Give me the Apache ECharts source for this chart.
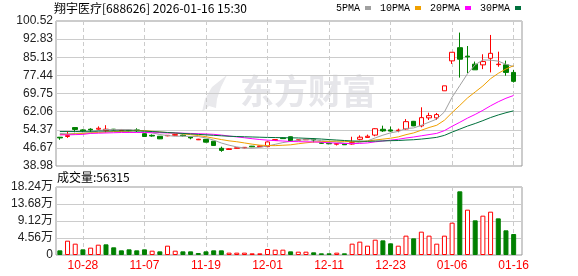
<!DOCTYPE html>
<html>
<head>
<meta charset="utf-8">
<title>翔宇医疗 日K</title>
<script src="https://cdn.jsdelivr.net/npm/echarts@6.0.0/dist/echarts.min.js"></script>
<style>
  html, body { margin: 0; padding: 0; background: #fff; }
  #main { width: 578px; height: 276px; }
</style>
</head>
<body>
<div id="main"></div>
<script>
// 交易日
var dates = [
  '10-23', '10-24', '10-27', '10-28', '10-29', '10-30', '10-31',
  '11-03', '11-04', '11-05', '11-06', '11-07', '11-10', '11-11', '11-12', '11-13', '11-14',
  '11-17', '11-18', '11-19', '11-20', '11-21', '11-24', '11-25', '11-26', '11-27', '11-28',
  '12-01', '12-02', '12-03', '12-04', '12-05', '12-08', '12-09', '12-10', '12-11', '12-12',
  '12-15', '12-16', '12-17', '12-18', '12-19', '12-22', '12-23', '12-24', '12-25', '12-26',
  '12-29', '12-30', '12-31',
  '01-05', '01-06', '01-07', '01-08', '01-09', '01-12', '01-13', '01-14', '01-15', '01-16'
];
var labelDates = ['10-28', '11-07', '11-19', '12-01', '12-11', '12-23', '01-06', '01-16'];

// 开 收 低 高
var opens = [51.2, 51.5, 55.3, 54.3, 54.6, 54.6, 54.0, 54.6, 54.0, 54.2,
  54.3, 52.7, 52.0, 51.6, 51.8, 52.0, 52.1, 51.3, 50.1, 50.3,
  49.5, 46.5, 46.0, 46.5, 46.7, 47.4, 47.2, 47.2, 49.8, 50.9,
  51.4, 49.9, 50.1, 50.4, 48.9, 48.6, 48.2, 48.3, 48.3, 50.3,
  51.1, 52.1, 54.57, 54.3, 54.0, 54.7, 57.95, 56.0, 59.4, 59.4,
  70.9, 83.6, 89.2, 85.6, 82.2, 81.9, 84.7, 82.0, 81.9, 78.7];
var closes = [50.9, 51.9, 54.5, 53.9, 54.3, 55.0, 54.6, 54.3, 54.2, 54.0,
  53.9, 51.5, 51.7, 50.5, 52.0, 52.3, 51.8, 50.9, 50.35, 49.1,
  47.7, 45.6, 46.3, 46.7, 46.9, 47.1, 47.5, 49.2, 50.2, 50.6,
  49.6, 50.1, 50.3, 50.0, 48.6, 48.4, 48.5, 48.0, 48.9, 51.2,
  51.6, 54.8, 53.87, 53.8, 54.2, 57.8, 56.0, 59.5, 60.35, 60.8,
  73.0, 87.25, 84.3, 85.3, 79.8, 83.3, 86.8, 82.2, 78.7, 74.9];
var lows = [50.1, 50.9, 53.3, 53.3, 53.3, 54.3, 53.2, 54.0, 53.8, 53.7,
  53.4, 51.4, 51.4, 50.4, 51.6, 51.8, 51.5, 50.3, 50.0, 49.0,
  47.5, 45.0, 45.9, 46.4, 46.5, 47.0, 47.1, 47.1, 49.6, 50.5,
  49.4, 49.8, 50.0, 49.0, 48.4, 48.2, 47.7, 47.9, 48.0, 49.9,
  50.9, 51.6, 53.45, 53.45, 53.3, 54.4, 55.9, 55.4, 58.5, 58.5,
  70.9, 82.3, 76.5, 78.4, 79.8, 80.1, 78.7, 81.1, 77.3, 74.4];
var highs = [51.3, 53.8, 55.4, 54.6, 55.0, 55.8, 56.3, 54.7, 54.4, 54.3,
  55.0, 52.8, 52.4, 51.7, 52.1, 52.5, 52.3, 51.4, 50.5, 50.4,
  49.6, 47.2, 46.5, 46.8, 47.0, 47.5, 47.6, 49.3, 50.4, 51.1,
  51.5, 50.2, 50.5, 50.8, 49.0, 48.7, 48.7, 48.4, 51.4, 52.0,
  52.3, 55.0, 56.1, 55.7, 54.85, 58.9, 58.1, 63.9, 61.6, 61.5,
  73.0, 87.3, 95.6, 89.9, 83.3, 86.4, 94.6, 87.5, 83.7, 79.8];

// 成交量(股)
var volumes = [12500, 38400, 30400, 15200, 19700, 27700, 28600, 20600, 12500, 15200,
  12500, 15200, 11600, 9800, 25000, 11600, 9800, 9800, 5400, 9800,
  12500, 12500, 6300, 6300, 6300, 4500, 4500, 16100, 14300, 14300,
  9800, 8900, 8900, 7200, 4500, 4500, 6300, 4500, 30400, 35800,
  25000, 41100, 39300, 31300, 25000, 51900, 44700, 62600, 51900, 30400,
  51900, 86700, 170800, 121600, 93000, 105500, 116200, 98300, 66200, 56315];

// 均线
var ma5 = [52.8, 52.6, 52.8, 53.0, 53.1, 53.92, 54.46, 54.42, 54.48, 54.42,
  54.2, 53.58, 53.06, 52.32, 51.92, 51.6, 51.66, 51.5, 51.47, 50.89,
  49.97, 48.73, 47.81, 47.08, 46.64, 46.52, 46.9, 47.48, 48.18, 48.92,
  49.42, 49.94, 50.16, 50.12, 49.72, 49.48, 49.16, 48.7, 48.48, 49.0,
  49.64, 50.9, 52.07, 53.05, 53.65, 54.89, 55.13, 56.26, 57.57, 58.89,
  61.93, 68.18, 73.14, 78.13, 81.93, 83.99, 83.9, 83.48, 82.16, 81.18];
var ma10 = [52.3, 52.4, 52.6, 52.8, 53.0, 53.2, 53.4, 53.6, 53.7, 53.76,
  54.06, 54.02, 53.74, 53.4, 53.17, 52.9, 52.62, 52.28, 51.9, 51.41,
  50.79, 50.2, 49.66, 49.28, 48.77, 48.25, 47.82, 47.65, 47.63, 47.78,
  47.97, 48.42, 48.82, 49.15, 49.32, 49.45, 49.55, 49.43, 49.3, 49.36,
  49.56, 50.03, 50.39, 50.77, 51.33, 52.27, 53.02, 54.17, 55.31, 56.27,
  58.41, 61.66, 64.7, 67.85, 70.41, 72.96, 76.04, 78.31, 80.15, 81.56];
var ma20 = [52.2, 52.2, 52.3, 52.4, 52.8, 52.9, 53.0, 53.1, 53.2, 53.2,
  53.2, 53.2, 53.1, 53.1, 53.0, 53.0, 52.9, 52.8, 52.7, 52.58,
  52.42, 52.11, 51.7, 51.34, 50.97, 50.57, 50.22, 49.96, 49.76, 49.59,
  49.38, 49.31, 49.24, 49.21, 49.04, 48.85, 48.68, 48.54, 48.47, 48.57,
  48.77, 49.23, 49.6, 49.96, 50.32, 50.86, 51.28, 51.8, 52.31, 52.82,
  53.99, 55.84, 57.54, 59.31, 60.87, 62.61, 64.53, 66.24, 67.73, 68.91];
var ma30 = [53.6, 53.6, 53.6, 53.7, 53.7, 53.8, 53.8, 53.9, 53.9, 53.9,
  53.9, 53.8, 53.6, 53.4, 53.2, 53.0, 52.8, 52.6, 52.4, 52.2,
  52.0, 51.8, 51.6, 51.5, 51.4, 51.3, 51.2, 51.1, 51.05, 50.98,
  50.94, 50.88, 50.74, 50.61, 50.42, 50.2, 50.0, 49.79, 49.61, 49.52,
  49.44, 49.55, 49.62, 49.73, 49.8, 49.99, 50.13, 50.41, 50.75, 51.14,
  51.98, 53.37, 54.64, 55.92, 57.02, 58.23, 59.54, 60.64, 61.59, 62.4];

// 刻度
var priceTicks = ['38.98', '46.67', '54.37', '62.06', '69.75', '77.44', '85.13', '92.83', '100.52'];
var volTicks = ['0', '4.56万', '9.12万', '13.68万', '18.24万'];

var UP = '#ff0000';
var DOWN = '#008000';
var LABEL_FONT = '"Liberation Sans", "Noto Sans CJK SC", sans-serif';

var kData = opens.map(function (o, i) {
  return [o, closes[i], lows[i], highs[i]];
});

// 量柱颜色按收盘比昨收
var volData = volumes.map(function (v, i) {
  var up = i === 0 ? closes[i] >= opens[i] : closes[i] >= closes[i - 1];
  return {
    value: v,
    itemStyle: up
      ? { color: '#fff', borderColor: UP, borderWidth: 1 }
      : { color: DOWN, borderColor: DOWN, borderWidth: 1 }
  };
});

function isLabelDay(index, value) {
  return labelDates.indexOf(value) >= 0;
}

var myChart = echarts.init(document.getElementById('main'));

function maLine(name, data, color) {
  return {
    name: name,
    type: 'line',
    xAxisIndex: 1,
    yAxisIndex: 1,
    data: data,
    showSymbol: false,
    symbol: 'none',
    silent: true,
    lineStyle: { width: 1, color: color },
    itemStyle: { color: color },
    z: 3
  };
}

var option = {
  animation: false,
  backgroundColor: '#fff',
  title: {
    text: '翔宇医疗[688626] 2026-01-16 15:30',
    left: 54,
    top: 2,
    padding: 0,
    textStyle: { fontSize: 12, fontWeight: 'normal', color: '#000', fontFamily: '"Noto Sans CJK SC"' }
  },
  legend: {
    data: ['5PMA', '10PMA', '20PMA', '30PMA'],
    left: 336,
    top: 3,
    padding: 0,
    align: 'right',
    icon: 'rect',
    itemWidth: 6,
    itemHeight: 4,
    itemGap: 9,
    selectedMode: false,
    textStyle: { fontSize: 10, color: '#000', fontFamily: '"Liberation Mono"' }
  },
  grid: [
    { left: 56, top: 21, width: 466, height: 145, show: true, borderColor: '#999', borderWidth: 1, backgroundColor: 'transparent' },
    { left: 56, top: 21, width: 461.5, height: 145 },
    { left: 56, top: 187, width: 466, height: 68, show: true, borderColor: '#999', borderWidth: 1, backgroundColor: 'transparent' },
    { left: 56, top: 187, width: 461.5, height: 68 }
  ],
  xAxis: [
    { type: 'value', gridIndex: 0, min: 0, max: 1, show: false },
    {
      type: 'category', gridIndex: 1, data: dates, boundaryGap: true,
      axisLine: { show: false }, axisTick: { show: false }, axisLabel: { show: false },
      splitLine: { show: true, interval: isLabelDay, alignWithLabel: true, lineStyle: { color: '#ccc', type: [4, 3] } }
    },
    { type: 'value', gridIndex: 2, min: 0, max: 1, show: false },
    {
      type: 'category', gridIndex: 3, data: dates, boundaryGap: true,
      axisLine: { show: false }, axisTick: { show: false },
      axisLabel: { show: true, interval: isLabelDay, color: UP, fontSize: 12, margin: 5, fontFamily: LABEL_FONT },
      splitLine: { show: true, interval: isLabelDay, alignWithLabel: true, lineStyle: { color: '#ccc', type: [4, 3] } }
    }
  ],
  yAxis: [
    {
      type: 'value', gridIndex: 0, min: 0, max: 8, interval: 1,
      axisLine: { show: false }, axisTick: { show: false },
      axisLabel: { color: '#222', fontSize: 12, margin: 3, fontFamily: LABEL_FONT, formatter: function (v) { return priceTicks[v]; } },
      splitLine: { lineStyle: { color: '#ccc' } }
    },
    { type: 'value', gridIndex: 1, min: 38.98, max: 100.52, show: false, splitLine: { show: false } },
    {
      type: 'value', gridIndex: 2, min: 0, max: 4, interval: 1,
      axisLine: { show: false }, axisTick: { show: false },
      axisLabel: { color: '#222', fontSize: 12, margin: 3, fontFamily: LABEL_FONT, formatter: function (v) { return volTicks[v]; } },
      splitLine: { lineStyle: { color: '#ccc' } }
    },
    { type: 'value', gridIndex: 3, min: 0, max: 182400, show: false, splitLine: { show: false } }
  ],
  graphic: [
    {
      type: 'polygon', z: -1, silent: true,
      shape: { points: [[202, 112], [205, 99], [212, 87], [227, 75], [221, 87], [217, 99], [216, 108], [209, 106]] },
      style: { fill: '#e9e9ec' }
    },
    {
      type: 'text', left: 240, top: 74, z: -1, silent: true,
      style: { text: '东方财富', fill: '#e6e6ea', fontSize: 34, fontWeight: 'bold', fontFamily: '"Noto Sans CJK SC"' }
    },
    {
      type: 'text', left: 57, top: 171,
      style: { text: '成交量:' + volumes[volumes.length - 1], fill: '#000', fontSize: 12, fontFamily: '"Noto Sans CJK SC"' }
    }
  ],
  series: [
    {
      name: 'K',
      type: 'candlestick',
      xAxisIndex: 1,
      yAxisIndex: 1,
      data: kData,
      barWidth: 5,
      itemStyle: {
        color: '#fff',
        color0: DOWN,
        borderColor: UP,
        borderColor0: DOWN,
        borderWidth: 1
      },
      z: 2
    },
    maLine('5PMA', ma5, '#a0a0a0'),
    maLine('10PMA', ma10, '#f0a000'),
    maLine('20PMA', ma20, '#ff00ff'),
    maLine('30PMA', ma30, '#00703c'),
    {
      name: '成交量',
      type: 'bar',
      xAxisIndex: 3,
      yAxisIndex: 3,
      data: volData,
      barWidth: 5
    }
  ]
};

myChart.setOption(option);
</script>
</body>
</html>
